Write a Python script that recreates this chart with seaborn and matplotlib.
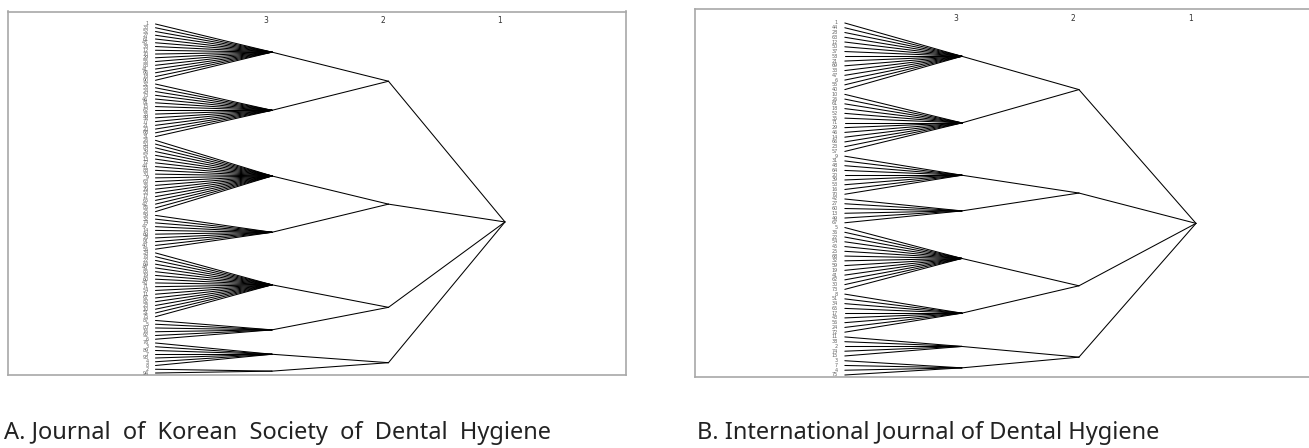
#!/usr/bin/env python3
"""
Two keyword cluster trees (level 3 -> 2 -> 1) side by side.
"""

import numpy as np
import pandas as pd
import matplotlib.pyplot as plt
import seaborn as sns

# =============================================================================
# DATA
# =============================================================================
# number of leaves in each level-3 cluster, top to bottom
A_CLUSTER_SIZES = [16, 15, 20, 10, 18, 6, 7, 2]
B_CLUSTER_SIZES = [15, 13, 9, 6, 14, 9, 5, 4]

# level-3 clusters joined by each level-2 node
LEVEL2_GROUPS = [(0, 1), (2, 3), (4, 5), (6, 7)]

LEVEL_LABELS = ['3', '2', '1']
LEVEL_DEPTHS = [3, 2, 1]

A_LEAF_LABELS = [
    '1', '33', '52', '27', '61', '45', '38', '12', '70', '29', '55', '83', '41', '66', '18', '90',
    '37', '58', '24', '73', '46', '81', '15', '62', '35', '49', '77', '21', '20', '68', '31',
    '26', '50', '84', '39', '57', '13', '72', '44', '88', '30', '9', '63', '36', '79', '53',
    '17', '65', '42', '86', '25',
    '59', '32', '74', '47', '14', '69', '28', '91', '40', '56',
    '34', '78', '22', '64', '48', '85', '19', '60', '43', '71', '54', '11', '67', '82', '23',
    '10', '51', '75',
    '87', '5', '80', '16', '92', '6',
    '76', '3', '89', '7', '93', '4', '8',
    '2', '94',
]
B_LEAF_LABELS = [
    '1', '44', '28', '63', '12', '50', '37', '58', '21', '69', '33', '47', '6', '55', '40',
    '10', '26', '61', '18', '52', '35', '71', '29', '46', '14', '66', '23', '57',
    '9', '31', '48', '64', '20', '39', '53', '16', '70',
    '42', '27', '60', '13', '49', '67',
    '5', '36', '22', '54', '45', '25', '68', '32', '59', '19', '41', '62', '30', '73',
    '8', '51', '34', '65', '17', '43', '56', '24', '72',
    '11', '38', '2', '74', '15',
    '3', '7', '4', '75',
]

CAPTIONS = ['A. Journal  of  Korean  Society  of  Dental  Hygiene',
            'B. International Journal of Dental Hygiene']


# =============================================================================
# TREE -> EDGE TABLE
# =============================================================================
def build_edges(sizes, groups):
    rows = []
    eid = 0

    def add(x0, y0, x1, y1):
        nonlocal eid
        rows.append((eid, x0, y0))
        rows.append((eid, x1, y1))
        eid += 1

    # leaves -> level 3
    start = 0
    c_pos = []
    for n in sizes:
        leaves = list(range(start, start + n))
        cy = (leaves[0] + leaves[-1]) / 2
        for ly in leaves:
            add(4, ly, 3, cy)
        c_pos.append(cy)
        start += n

    # level 3 -> level 2
    l2_pos = []
    for g in groups:
        ys = [c_pos[i] for i in g]
        y2 = (min(ys) + max(ys)) / 2
        for y in ys:
            add(3, y, 2, y2)
        l2_pos.append(y2)

    # level 2 -> root
    root = (min(l2_pos) + max(l2_pos)) / 2
    for y in l2_pos:
        add(2, y, 1, root)

    return pd.DataFrame(rows, columns=['edge', 'depth', 'pos'])


# =============================================================================
# FIGURE
# =============================================================================
sns.set_style('white')
fig = plt.figure(figsize=(13.09, 4.48), dpi=100)

W, H = 1309, 448
panels = [
    # (sizes, labels, pixel box l, t, r, b, x limits, y limits)
    (A_CLUSTER_SIZES, A_LEAF_LABELS, (8, 11.5, 626, 375), (5.266, -0.039), (93.53, -3.33)),
    (B_CLUSTER_SIZES, B_LEAF_LABELS, (695, 9.3, 1312, 376.7), (5.28, 0.009), (74.36, -2.88)),
]

for sizes, labels, (l, t, r, b), xlim, ylim in panels:
    ax = fig.add_axes([l / W, 1 - b / H, (r - l) / W, (b - t) / H])
    edges = build_edges(sizes, LEVEL2_GROUPS)
    sns.lineplot(data=edges, x='depth', y='pos', units='edge', estimator=None,
                 sort=False, color='black', linewidth=0.75, ax=ax, legend=False)
    ax.set_xlim(*xlim)
    ax.set_ylim(*ylim)
    ax.set_xticks([])
    ax.set_yticks([])
    ax.set_xlabel('')
    ax.set_ylabel('')
    for s in ax.spines.values():
        s.set_color('#a8a8a8')
        s.set_linewidth(1.2)

    # leaf labels
    for i, lab in enumerate(labels):
        ax.text(4.06, i, lab, ha='right', va='center', fontsize=3.5, color='#666666')

    # level labels at the top
    for lab, d in zip(LEVEL_LABELS, LEVEL_DEPTHS):
        ax.text(d + 0.05, 0.976, lab, transform=ax.get_xaxis_transform(),
                ha='center', va='center', fontsize=5.5, color='#333333')

fig.text(4 / W, 1 - 433 / H, CAPTIONS[0], ha='left', va='center',
         fontsize=17, family='Noto Sans', color='#222222')
fig.text(697 / W, 1 - 433 / H, CAPTIONS[1], ha='left', va='center',
         fontsize=17, family='Noto Sans', color='#222222')

plt.savefig('out.png', dpi=100)
plt.close()
